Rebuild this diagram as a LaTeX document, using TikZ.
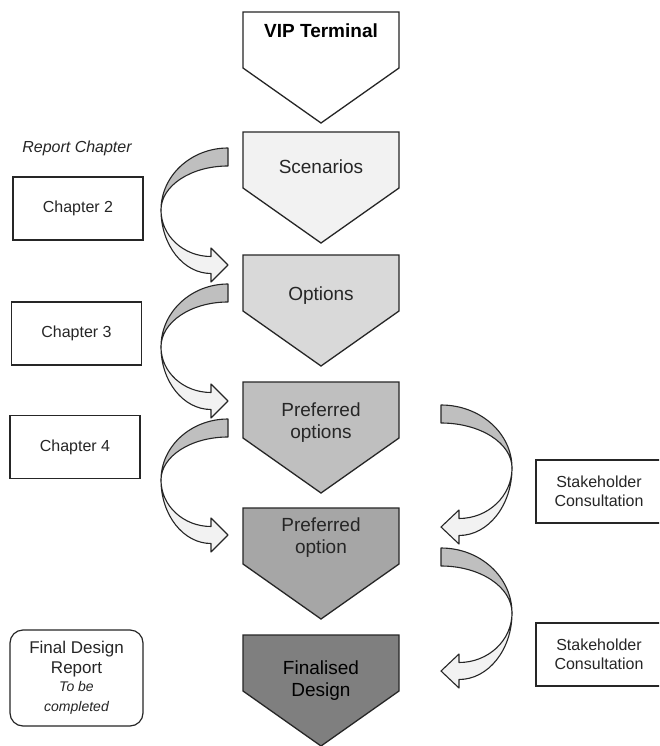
\documentclass[tikz,border=0pt]{standalone}
\usepackage{fontspec}
\setmainfont{Liberation Sans}
\definecolor{edge}{HTML}{262626}
\definecolor{gA}{HTML}{F2F2F2}
\definecolor{gB}{HTML}{D9D9D9}
\definecolor{gC}{HTML}{BFBFBF}
\definecolor{gD}{HTML}{A6A6A6}
\definecolor{gE}{HTML}{7F7F7F}
\definecolor{backband}{HTML}{BFBFBF}
\definecolor{frontband}{HTML}{F2F2F2}
% pentagon: #1 top y, #2 fill
\newcommand\pentshape[2]{%
  \draw[pent,fill=#2] (243,#1) -- (399,#1) -- (399,#1+56) -- (321,#1+111) -- (243,#1+56) -- cycle;}
% left curved arrow: #1 y0, #2 ym, #3 yh
\newcommand\leftcurve[3]{%
  \draw[band,fill=backband] (228,#1) arc[start angle=270,end angle=180,x radius=67,y radius=#2-#1]
     arc[start angle=180,end angle=270,x radius=67,y radius=#2-#1-18] -- cycle;
  \draw[band,fill=frontband] (161,#2) arc[start angle=180,end angle=90,x radius=50,y radius=#3+8.5-#2]
     -- (211,#3+17) -- (228,#3) -- (211,#3-17) -- (211,#3-8.5)
     arc[start angle=90,end angle=180,x radius=50,y radius=#3-8.5-#2] -- cycle;}
% right curved arrow
\newcommand\rightcurve[3]{%
  \draw[band,fill=backband] (441,#1) arc[start angle=270,end angle=360,x radius=71,y radius=#2-#1]
     arc[start angle=0,end angle=-90,x radius=71,y radius=#2-#1-18] -- cycle;
  \draw[band,fill=frontband] (512,#2) arc[start angle=0,end angle=90,x radius=53,y radius=#3+8.5-#2]
     -- (459,#3+17) -- (441,#3) -- (459,#3-17) -- (459,#3-8.5)
     arc[start angle=90,end angle=0,x radius=53,y radius=#3-8.5-#2] -- cycle;}
\begin{document}
\begin{tikzpicture}[x=1pt,y=-1pt,
  pent/.style={draw=edge,line width=1.3pt,line join=miter},
  band/.style={draw=edge,line width=1.1pt,line join=round},
  ptext/.style={align=center,font=\fontsize{19}{22}\selectfont,text=black!85},
  chbox/.style={draw=edge,line width=1.2pt,minimum width=130pt,minimum height=63pt,align=center,font=\fontsize{16}{19}\selectfont,text=black!85,inner sep=0pt},
  shbox/.style={draw=edge,line width=1.2pt,align=center,font=\fontsize{16}{19}\selectfont,text=black!85}]
\useasboundingbox (0,0) rectangle (659,746);
\clip (0,0) rectangle (659,746);
\fill[white] (0,0) rectangle (659,746);
% pentagons
\pentshape{12}{white}
\pentshape{132}{gA}
\pentshape{255}{gB}
\pentshape{382}{gC}
\pentshape{508}{gD}
\pentshape{635}{gE}
\node[ptext,font=\bfseries\fontsize{19}{22}\selectfont,text=black] (vip) at (321,31) {VIP Terminal};
\node[ptext] (scen) at (321,167) {Scenarios};
\node[ptext] (opts) at (321,296) {Options};
\node[ptext] (prefs) at (321,423) {Preferred\\options};
\node[ptext] (pref) at (321,538) {Preferred\\option};
\node[ptext,text=black] (fin) at (321,681) {Finalised\\Design};
% left boxes
\node[font=\itshape\fontsize{16}{19}\selectfont,text=black!85] (rc) at (77,148) {Report Chapter};
\node[chbox] (ch2) at (78,208.5) {Chapter 2};
\node[chbox] (ch3) at (76.5,333.5) {Chapter 3};
\node[chbox] (ch4) at (75,447) {Chapter 4};
\node[chbox,minimum width=133pt,minimum height=96pt,rounded corners=13pt,font=\fontsize{17}{20}\selectfont] (fdr) at (76.5,678)
  {Final Design\\Report\\[-2pt]{\itshape\fontsize{14}{17}\selectfont To be}\\{\itshape\fontsize{14}{17}\selectfont completed}};
% stakeholder boxes
\draw[draw=edge,line width=1.2pt] (665,460) -- (536,460) -- (536,523) -- (665,523);
\node[shbox,draw=none] (sc1) at (599,491.5) {Stakeholder\\Consultation};
\draw[draw=edge,line width=1.2pt] (665,623) -- (536,623) -- (536,686) -- (665,686);
\node[shbox,draw=none] (sc2) at (599,654.5) {Stakeholder\\Consultation};
% curved arrows
\leftcurve{148}{210}{265}
\leftcurve{284}{347}{401}
\leftcurve{419}{480}{535}
\rightcurve{405}{468}{527}
\rightcurve{548}{613}{671}
\end{tikzpicture}
\end{document}
